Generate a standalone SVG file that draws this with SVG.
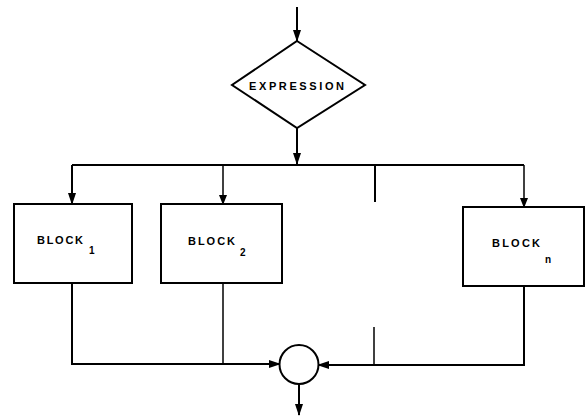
<svg xmlns="http://www.w3.org/2000/svg" width="585" height="417" viewBox="0 0 585 417">
<style>
.ln{stroke:#000;stroke-width:2;fill:none}
.th{stroke-width:1.5}
.shp{stroke:#000;stroke-width:2;fill:#fff}
.t{font-family:"Liberation Sans",Arial,sans-serif;font-size:11px;font-weight:bold;fill:#000}
.s{font-family:"Liberation Sans",Arial,sans-serif;font-size:10px;font-weight:bold;fill:#000}
</style>
<defs>
<marker id="ah" viewBox="0 0 12 8" refX="11" refY="4" markerWidth="12" markerHeight="8" orient="auto" markerUnits="userSpaceOnUse">
<path d="M0,0 L12,4 L0,8 Z" fill="#000"/>
</marker>
<marker id="ahs" viewBox="0 0 10 8" refX="9" refY="4" markerWidth="10" markerHeight="8" orient="auto" markerUnits="userSpaceOnUse">
<path d="M0,0 L10,4 L0,8 Z" fill="#000"/>
</marker>
</defs>
<g id="connectors">
<line class="ln" x1="297" y1="7" x2="297" y2="41" marker-end="url(#ah)"/>
<line class="ln" x1="297" y1="128" x2="297" y2="164" marker-end="url(#ah)"/>
<line class="ln" x1="72" y1="165" x2="524" y2="165"/>
<polyline class="ln" points="72,165 72,204" marker-end="url(#ah)"/>
<line class="ln th" x1="223" y1="165" x2="223" y2="204" marker-end="url(#ahs)"/>
<line class="ln th" x1="524" y1="165" x2="524" y2="207" marker-end="url(#ahs)"/>
<line class="ln" x1="375" y1="165" x2="375" y2="202"/>
<polyline class="ln" points="72,283 72,364 280,364" marker-end="url(#ah)"/>
<line class="ln th" x1="223" y1="283" x2="223" y2="364"/>
<polyline class="ln" points="524,286 524,365 318,365" marker-end="url(#ah)"/>
<line class="ln th" x1="374" y1="327" x2="374" y2="365"/>
<line class="ln" x1="299" y1="384" x2="299" y2="415" marker-end="url(#ah)"/>
</g>
<g id="expression">
<polygon class="shp" points="297,41 365,85 297,128 232,85"/>
<text class="t" x="249" y="90" textLength="95" lengthAdjust="spacing">EXPRESSION</text>
</g>
<g id="block1">
<rect class="shp" x="14" y="204" width="118" height="79"/>
<text class="t" x="37" y="244" textLength="46" lengthAdjust="spacing">BLOCK</text>
<text class="s" x="89" y="254">1</text>
</g>
<g id="block2">
<rect class="shp" x="161" y="204" width="121" height="79"/>
<text class="t" x="188" y="245" textLength="47" lengthAdjust="spacing">BLOCK</text>
<text class="s" x="240" y="256">2</text>
</g>
<g id="blockn">
<rect class="shp" x="463" y="207" width="121" height="79"/>
<text class="t" x="492" y="247" textLength="48" lengthAdjust="spacing">BLOCK</text>
<text class="s" x="545" y="263">n</text>
</g>
<g id="junction">
<circle class="shp" cx="299" cy="364.5" r="19.5"/>
</g>
</svg>
